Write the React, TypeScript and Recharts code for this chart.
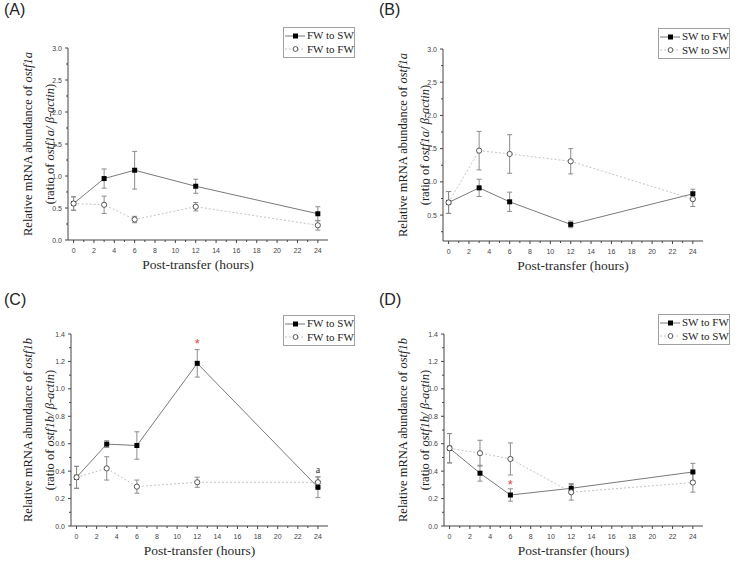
import { LineChart, Line, XAxis, YAxis, ErrorBar, Legend, Label, ReferenceDot } from "recharts";

// sampling times (hours after transfer)
const hours = [0, 3, 6, 12, 24];

// (A) ostf1a, fish from FW
const aFwToSw = [0.57, 0.96, 1.09, 0.84, 0.41];
const aFwToSwErr = [0.105, 0.15, 0.295, 0.11, 0.11];
const aFwToFw = [0.57, 0.55, 0.32, 0.52, 0.23];
const aFwToFwErr = [0.105, 0.135, 0.05, 0.065, 0.075];

// (B) ostf1a, fish from SW
const bSwToFw = [0.69, 0.91, 0.7, 0.36, 0.82];
const bSwToFwErr = [0.165, 0.13, 0.145, 0.05, 0.07];
const bSwToSw = [0.69, 1.47, 1.42, 1.31, 0.74];
const bSwToSwErr = [0.165, 0.29, 0.29, 0.19, 0.11];

// (C) ostf1b, fish from FW
const cFwToSw = [0.355, 0.597, 0.587, 1.186, 0.282];
const cFwToSwErr = [0.08, 0.025, 0.1, 0.1, 0.075];
const cFwToFw = [0.355, 0.42, 0.287, 0.319, 0.319];
const cFwToFwErr = [0.08, 0.085, 0.048, 0.037, 0.04];

// (D) ostf1b, fish from SW
const dSwToFw = [0.567, 0.385, 0.226, 0.275, 0.394];
const dSwToFwErr = [0.107, 0.058, 0.045, 0.034, 0.063];
const dSwToSw = [0.567, 0.531, 0.489, 0.246, 0.317];
const dSwToSwErr = [0.107, 0.094, 0.117, 0.057, 0.07];

// axis ticks
const xTicks = [0, 1, 2, 3, 4, 5, 6, 7, 8, 9, 10, 11, 12, 13, 14, 15, 16, 17, 18, 19, 20, 21, 22, 23, 24];
const xTickLabels = [0, 2, 4, 6, 8, 10, 12, 14, 16, 18, 20, 22, 24];
const yTicksA = [0, 0.25, 0.5, 0.75, 1, 1.25, 1.5, 1.75, 2, 2.25, 2.5, 2.75, 3];
const yTicksB = [0.25, 0.5, 0.75, 1, 1.25, 1.5, 1.75, 2, 2.25, 2.5, 2.75, 3];
const yLabelsAB = [0, 0.5, 1, 1.5, 2, 2.5, 3];
const yTicksCD = [0, 0.1, 0.2, 0.3, 0.4, 0.5, 0.6, 0.7, 0.8, 0.9, 1, 1.1, 1.2, 1.3, 1.4];
const yLabelsCD = [0, 0.2, 0.4, 0.6, 0.8, 1, 1.2, 1.4];

// significance marks
const cNotes = [
  { h: 12, v: 1.33, text: "*", color: "#e04545" },
  { h: 24, v: 0.41, text: "a", color: "#333" },
];
const dNotes = [{ h: 6, v: 0.3, text: "*", color: "#e04545" }];

const TICK = 4;
const GAP = 2;
const AXIS = "#444";
const SERIF = "'Liberation Serif', 'Times New Roman', serif";
const SANS = "'Liberation Sans', Arial, sans-serif";

const rows = (s1: number[], e1: number[], s2: number[], e2: number[]) =>
  hours.map((h, i) => ({ h, s1: s1[i], e1: e1[i], s2: s2[i], e2: e2[i] }));

const isIn = (list: number[], v: number) => list.some((l) => Math.abs(l - v) < 1e-6);

const makeXTick = () => (props: any) => {
  const { x, y, payload } = props;
  const axisY = y - TICK - GAP;
  const major = isIn(xTickLabels, payload.value);
  return (
    <g>
      <line x1={x} x2={x} y1={axisY} y2={axisY + (major ? 3 : 2)} stroke={AXIS} />
      {major && (
        <text x={x} y={axisY + 10} textAnchor="middle" dominantBaseline="central" style={{ fontSize: 7, fontFamily: SANS }} fill="#444">
          {payload.value}
        </text>
      )}
    </g>
  );
};

const makeYTick = (labels: number[]) => (props: any) => {
  const { x, y, payload } = props;
  const axisX = x + TICK + GAP;
  const major = isIn(labels, payload.value);
  return (
    <g>
      <line x1={axisX} x2={axisX - (major ? 3 : 2)} y1={y} y2={y} stroke={AXIS} />
      {major && (
        <text x={axisX - 6} y={y} textAnchor="end" dominantBaseline="central" style={{ fontSize: 7, fontFamily: SANS }} fill="#444">
          {payload.value.toFixed(1)}
        </text>
      )}
    </g>
  );
};

const Square = (p: any) => {
  if (p.cx == null || p.cy == null) return <g key={`sq-${p.index}`} />;
  return <rect key={`sq-${p.index}`} x={p.cx - 2.5} y={p.cy - 2.5} width={5} height={5} fill="#000" />;
};

const Ring = (p: any) => {
  if (p.cx == null || p.cy == null) return <g key={`rg-${p.index}`} />;
  return <circle key={`rg-${p.index}`} cx={p.cx} cy={p.cy} r={2.6} fill="#fff" stroke="#555" strokeWidth={1} />;
};

const LegendBox = ({ names }: { names: string[] }) => (
  <div
    style={{
      border: "1px solid #a0a0a0",
      background: "#fff",
      width: 72,
      boxSizing: "border-box",
      padding: "1px 0",
      fontFamily: SERIF,
      fontSize: 11,
      color: "#222",
      lineHeight: "13px",
      whiteSpace: "nowrap",
    }}
  >
    {names.map((n, i) => (
      <div key={n} style={{ display: "flex", alignItems: "center", height: 13.5 }}>
        <svg width={20} height={10} style={{ marginLeft: 1, flexShrink: 0 }}>
          <line x1={0} x2={20} y1={5} y2={5} stroke={i === 0 ? "#777" : "#c4c4c4"} strokeDasharray={i === 0 ? undefined : "2 2"} />
          {i === 0 ? (
            <rect x={8} y={2.5} width={5} height={5} fill="#000" />
          ) : (
            <circle cx={10.5} cy={5} r={2.4} fill="#fff" stroke="#555" />
          )}
        </svg>
        <span style={{ marginLeft: 2 }}>{n}</span>
      </div>
    ))}
  </div>
);

type PanelProps = {
  letter: string;
  left: number;
  top: number;
  height: number;
  margin: { top: number; right: number; bottom: number; left: number };
  data: any[];
  names: string[];
  gene: string;
  yDomain: [number, number];
  yTicks: number[];
  yLabels: number[];
  legendTop: number;
  notes?: { h: number; v: number; text: string; color: string }[];
};

function Panel(props: PanelProps) {
  const { letter, left, top, height, margin, data, names, gene, yDomain, yTicks, yLabels, legendTop, notes } = props;

  const yTitle = (lp: any) => {
    const vb = lp.viewBox || { y: margin.top, height: height - margin.top - margin.bottom - 30 };
    const cy = vb.y + vb.height / 2;
    return (
      <g style={{ fontFamily: SERIF, fontSize: 12.5 }} fill="#222">
        <text x={28} y={cy} transform={`rotate(-90 28 ${cy})`} textAnchor="middle" dominantBaseline="central">
          Relative mRNA abundance of <tspan fontStyle="italic">{gene}</tspan>
        </text>
        <text x={50} y={cy} transform={`rotate(-90 50 ${cy})`} textAnchor="middle" dominantBaseline="central">
          (ratio of <tspan fontStyle="italic">{gene}/ β-actin</tspan>)
        </text>
      </g>
    );
  };

  const xTitle = (lp: any) => {
    const vb = lp.viewBox || { x: 0, y: 0, width: 0 };
    const cx = vb.x + vb.width / 2;
    return (
      <text
        x={cx}
        y={vb.y + 24}
        textAnchor="middle"
        dominantBaseline="central"
        style={{ fontFamily: SERIF, fontSize: 13.5, fontWeight: "normal" }}
        fill="#2a2a2a"
      >
        Post-transfer (hours)
      </text>
    );
  };

  return (
    <div style={{ position: "absolute", left, top, width: 375, height }}>
      <div style={{ position: "absolute", left: 4, top: 1, fontFamily: SANS, fontSize: 16, color: "#222", zIndex: 2 }}>
        ({letter})
      </div>
      <LineChart width={375} height={height} data={data} margin={margin}>
        <XAxis
          type="number"
          dataKey="h"
          domain={[-0.55, 25]}
          ticks={xTicks}
          interval={0}
          tick={makeXTick()}
          tickLine={false}
          tickSize={TICK}
          tickMargin={GAP}
          axisLine={{ stroke: AXIS }}
          height={30}
          allowDataOverflow
        >
          <Label content={xTitle} />
        </XAxis>
        <YAxis
          type="number"
          domain={yDomain}
          ticks={yTicks}
          interval={0}
          tick={makeYTick(yLabels)}
          tickLine={false}
          tickSize={TICK}
          tickMargin={GAP}
          axisLine={{ stroke: AXIS }}
          width={40}
          allowDataOverflow
        >
          <Label content={yTitle} />
        </YAxis>
        <Line
          type="linear"
          dataKey="s1"
          name={names[0]}
          stroke="#7a7a7a"
          strokeWidth={1}
          dot={Square}
          activeDot={false}
          isAnimationActive={false}
        >
          <ErrorBar dataKey="e1" width={2.5} stroke="#8c8c8c" strokeWidth={1} direction="y" isAnimationActive={false} />
        </Line>
        <Line
          type="linear"
          dataKey="s2"
          name={names[1]}
          stroke="#c4c4c4"
          strokeWidth={1}
          strokeDasharray="2 2"
          dot={Ring}
          activeDot={false}
          isAnimationActive={false}
        >
          <ErrorBar dataKey="e2" width={2.5} stroke="#8c8c8c" strokeWidth={1} direction="y" isAnimationActive={false} />
        </Line>
        {(notes || []).map((n, i) => (
          <ReferenceDot
            key={i}
            x={n.h}
            y={n.v}
            r={0}
            shape={(p: any) => (
              <text
                x={p.cx}
                y={p.cy}
                textAnchor="middle"
                dominantBaseline="central"
                style={{ fontSize: n.text === "*" ? 13 : 10, fontFamily: n.text === "*" ? SANS : SERIF }}
                fill={n.color}
              >
                {n.text}
              </text>
            )}
          />
        ))}
        <Legend
          layout="vertical"
          align="center"
          verticalAlign="middle"
          content={() => <LegendBox names={names} />}
          wrapperStyle={{ left: 283, top: legendTop, width: 74, height: 30 }}
        />
      </LineChart>
    </div>
  );
}

export default function App() {
  return (
    <div style={{ position: "fixed", left: 0, top: 0, width: 750, height: 575, background: "#fff" }}>
      <Panel
        letter="A"
        left={0}
        top={0}
        height={290}
        margin={{ top: 48, right: 47, bottom: 20, left: 28 }}
        data={rows(aFwToSw, aFwToSwErr, aFwToFw, aFwToFwErr)}
        names={["FW to SW", "FW to FW"]}
        gene="ostf1a"
        yDomain={[0, 3]}
        yTicks={yTicksA}
        yLabels={yLabelsAB}
        legendTop={27}
      />
      <Panel
        letter="B"
        left={375}
        top={0}
        height={290}
        margin={{ top: 49, right: 47, bottom: 19, left: 28 }}
        data={rows(bSwToFw, bSwToFwErr, bSwToSw, bSwToSwErr)}
        names={["SW to FW", "SW to SW"]}
        gene="ostf1a"
        yDomain={[0.11, 3]}
        yTicks={yTicksB}
        yLabels={yLabelsAB}
        legendTop={28}
      />
      <Panel
        letter="C"
        left={0}
        top={290}
        height={285}
        margin={{ top: 44, right: 47, bottom: 19, left: 31 }}
        data={rows(cFwToSw, cFwToSwErr, cFwToFw, cFwToFwErr)}
        names={["FW to SW", "FW to FW"]}
        gene="ostf1b"
        yDomain={[0, 1.4]}
        yTicks={yTicksCD}
        yLabels={yLabelsCD}
        legendTop={25}
        notes={cNotes}
      />
      <Panel
        letter="D"
        left={375}
        top={290}
        height={285}
        margin={{ top: 44, right: 47, bottom: 19, left: 29 }}
        data={rows(dSwToFw, dSwToFwErr, dSwToSw, dSwToSwErr)}
        names={["SW to FW", "SW to SW"]}
        gene="ostf1b"
        yDomain={[0, 1.4]}
        yTicks={yTicksCD}
        yLabels={yLabelsCD}
        legendTop={24}
        notes={dNotes}
      />
    </div>
  );
}
